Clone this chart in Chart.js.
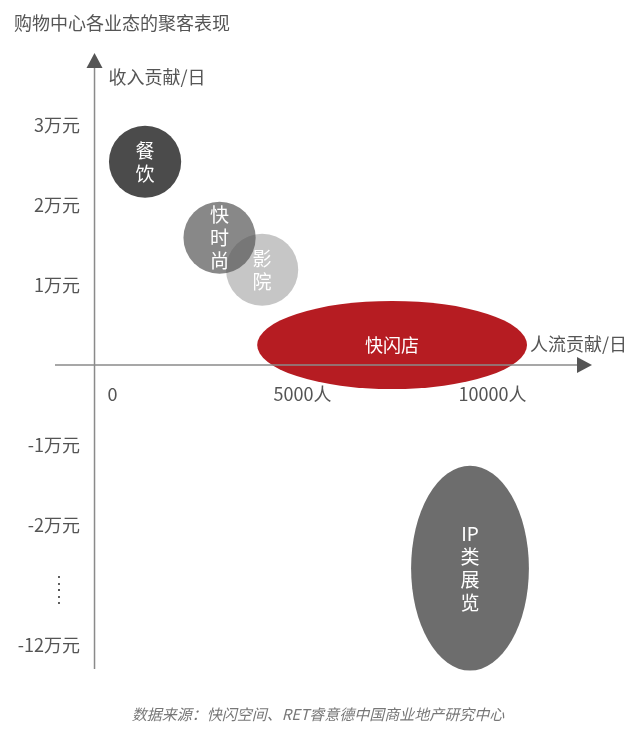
<!DOCTYPE html>
<html>
<head>
<meta charset="utf-8">
<script src="https://cdn.jsdelivr.net/npm/chart.js@4.4.0/dist/chart.umd.min.js"></script>
<style>
    body { margin: 0; background: #fff; }
    .wrap { position: relative; width: 640px; height: 736px; }
    .title { position: absolute; left: 14px; top: 9px; font: 18px "Noto Sans CJK SC"; color: #555; }
    .source { position: absolute; left: 0; width: 636px; top: 703px; text-align: center;
              font: italic 15px "Noto Sans CJK SC"; color: #777; line-height: 22px; }
</style>
</head>
<body>
<div class="wrap">
    <canvas id="chart"></canvas>
    <div class="title">购物中心各业态的聚客表现</div>
    <div class="source">数据来源：快闪空间、RET睿意德中国商业地产研究中心</div>
</div>
<script>
// drawn in this order (影院 sits under 快时尚)
const categories = ['餐饮', '影院', '快时尚', '快闪店', 'IP类展览']
const visitors = [1330, 4410, 3290, 7830, 9880]          // 人/日, centre
const visitorSpread = [950, 950, 950, 3550, 1550]       // half width
const revenue = [2.54, 1.19, 1.59, 0.25, -2.54]         // 万元/日 (broken axis below -2)
const revenueSpread = [0.45, 0.45, 0.45, 0.55, 1.28]    // half height

const xTickAt = [0, 5000, 10000]
const xTickLabels = ['0', '5000人', '10000人']
const yTickAt = [3, 2, 1, -1, -2, -2.8, -3.5]
const yTickLabels = ['3万元', '2万元', '1万元', '-1万元', '-2万元', ['⋮   ', '⋮   '], '-12万元']

const xTitle = '人流贡献/日'
const yTitle = '收入贡献/日'

const colors = ['#4b4b4b', '#c6c6c6', 'rgba(85, 85, 85, 0.7)', '#b61c22', '#6d6d6d']
const FONT = "'Noto Sans CJK SC', 'Noto Sans', sans-serif"

const bubbles = {
    id: 'bubbles',
    beforeDatasetsDraw(chart) {
        const { ctx, scales: { x, y } } = chart
        ctx.save()
        categories.forEach((c, i) => {
            const cx = x.getPixelForValue(visitors[i])
            const cy = y.getPixelForValue(revenue[i])
            const rx = Math.abs(x.getPixelForValue(visitors[i] + visitorSpread[i]) - cx)
            const ry = Math.abs(y.getPixelForValue(revenue[i] + revenueSpread[i]) - cy)
            ctx.fillStyle = colors[i]
            ctx.beginPath()
            ctx.ellipse(cx, cy, rx, ry, 0, 0, Math.PI * 2)
            ctx.fill()
        })
        ctx.restore()
    },
    afterDatasetsDraw(chart) {
        // arrow axes crossing at the origin
        const { ctx, chartArea: a, scales: { x, y } } = chart
        const ox = x.getPixelForValue(0)
        const oy = y.getPixelForValue(0)
        ctx.save()
        ctx.strokeStyle = '#8a8a8a'
        ctx.lineWidth = 1.5
        ctx.beginPath()
        ctx.moveTo(a.left, oy)
        ctx.lineTo(a.right - 14, oy)
        ctx.moveTo(ox, a.bottom)
        ctx.lineTo(ox, a.top + 14)
        ctx.stroke()
        ctx.fillStyle = '#555'
        ctx.beginPath()
        ctx.moveTo(a.right, oy)
        ctx.lineTo(a.right - 15, oy - 8)
        ctx.lineTo(a.right - 15, oy + 8)
        ctx.fill()
        ctx.beginPath()
        ctx.moveTo(ox, a.top)
        ctx.lineTo(ox - 8, a.top + 15)
        ctx.lineTo(ox + 8, a.top + 15)
        ctx.fill()

        ctx.font = '18px ' + FONT
        ctx.fillStyle = '#555'
        ctx.textBaseline = 'middle'
        ctx.textAlign = 'left'
        ctx.fillText(yTitle, ox + 14, a.top + 24)
        ctx.textAlign = 'right'
        ctx.fillText(xTitle, a.right + 35, oy - 21)
        ctx.restore()
    },
    afterDraw(chart) {
        const { ctx, scales: { x, y } } = chart
        ctx.save()
        ctx.fillStyle = '#fff'
        ctx.textAlign = 'center'
        ctx.textBaseline = 'middle'
        categories.forEach((c, i) => {
            const cx = x.getPixelForValue(visitors[i])
            const cy = y.getPixelForValue(revenue[i])
            const rx = Math.abs(x.getPixelForValue(visitors[i] + visitorSpread[i]) - cx)
            const ry = Math.abs(y.getPixelForValue(revenue[i] + revenueSpread[i]) - cy)
            if (rx > ry * 1.5) {
                ctx.font = '18px ' + FONT
                ctx.fillText(c, cx, cy)
            } else {
                ctx.font = '19px ' + FONT
                const lines = c.match(/IP|./g)
                const lh = 23
                lines.forEach((t, k) => {
                    ctx.fillText(t, cx, cy + (k - (lines.length - 1) / 2) * lh)
                })
            }
        })
        ctx.restore()
    }
}

new Chart(document.getElementById('chart'), {
    type: 'scatter',
    data: {
        datasets: [{
            data: categories.map((c, i) => ({ x: visitors[i], y: revenue[i] })),
            pointRadius: 0
        }]
    },
    options: {
        responsive: true,
        maintainAspectRatio: false,
        animation: false,
        events: [],
        layout: { padding: { top: 53, bottom: 67, left: 55, right: 48 } },
        plugins: { legend: { display: false }, tooltip: { enabled: false } },
        scales: {
            x: {
                type: 'linear',
                position: { y: 0 },
                min: -1040,
                max: 13090,
                grid: { display: false, drawTicks: false },
                border: { display: false },
                afterBuildTicks: s => { s.ticks = xTickAt.map(v => ({ value: v })) },
                ticks: {
                    autoSkip: false,
                    maxRotation: 0,
                    padding: 18,
                    labelOffset: 18,
                    color: '#555',
                    font: { family: FONT, size: 18 },
                    callback: v => xTickLabels[xTickAt.indexOf(v)]
                }
            },
            y: {
                type: 'linear',
                // labels sit a little left of the drawn axis line
                position: { x: -380 },
                min: -3.8,
                max: 3.9,
                grid: { display: false, drawTicks: false },
                border: { display: false },
                afterBuildTicks: s => { s.ticks = yTickAt.map(v => ({ value: v })) },
                ticks: {
                    autoSkip: false,
                    color: '#555',
                    font: c => ({
                        family: FONT,
                        size: 18,
                        lineHeight: c.tick && Array.isArray(c.tick.label) ? '13px' : 1.2
                    }),
                    callback: v => yTickLabels[yTickAt.indexOf(v)]
                }
            }
        }
    },
    plugins: [bubbles]
})
</script>
</body>
</html>
